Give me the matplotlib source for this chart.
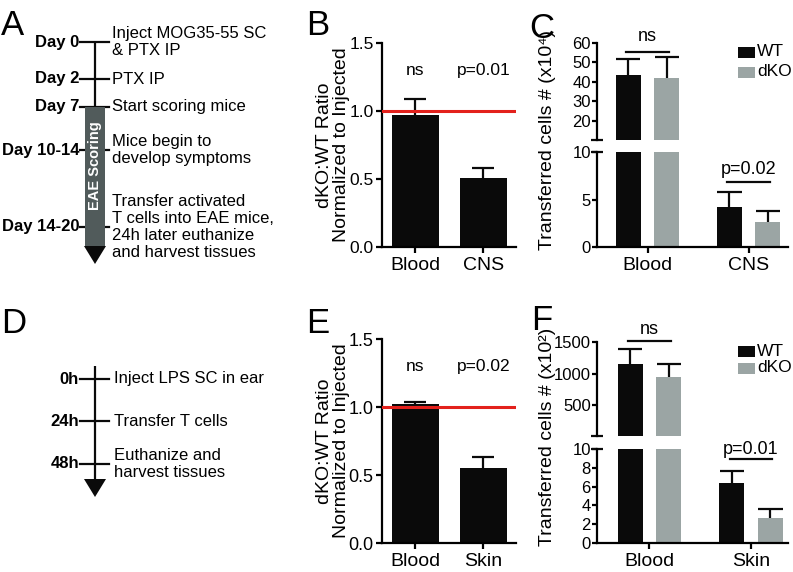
import matplotlib
matplotlib.use('Agg')
import matplotlib.pyplot as plt
import numpy as np
from matplotlib.patches import Rectangle, Polygon

plt.rcParams['font.family'] = ['Liberation Sans', 'DejaVu Sans']

# ---------------- data ----------------
# Panel A timeline (EAE)
eae_days = ['Day 0', 'Day 2', 'Day 7', 'Day 10-14', 'Day 14-20']
eae_events = ['Inject MOG35-55 SC\n& PTX IP', 'PTX IP', 'Start scoring mice',
              'Mice begin to\ndevelop symptoms',
              'Transfer activated\nT cells into EAE mice,\n24h later euthanize\nand harvest tissues']
# Panel D timeline (LPS)
lps_times = ['0h', '24h', '48h']
lps_events = ['Inject LPS SC in ear', 'Transfer T cells', 'Euthanize and\nharvest tissues']

# Panel B
cats_B = ['Blood', 'CNS']
ratio_B = [0.97, 0.51]
ratio_B_err = [0.12, 0.07]
pval_B = ['ns', 'p=0.01']
# Panel E
cats_E = ['Blood', 'Skin']
ratio_E = [1.02, 0.55]
ratio_E_err = [0.02, 0.08]
pval_E = ['ns', 'p=0.02']
ref_line = 1.0

# Panel C
cats_C = ['Blood', 'CNS']
wt_C = [43.6, 4.2]
wt_C_err = [8.2, 1.6]
dko_C = [42.0, 2.6]
dko_C_err = [10.6, 1.2]
pval_C = ['ns', 'p=0.02']
# Panel F
cats_F = ['Blood', 'Skin']
wt_F = [1160, 6.4]
wt_F_err = [235, 1.3]
dko_F = [950, 2.7]
dko_F_err = [195, 0.9]
pval_F = ['ns', 'p=0.01']
series_names = ['WT', 'dKO']

# ---------------- styles ----------------
W, H = 793, 572
BLACK = '#0a0a0a'
GREY = '#9ba5a4'
RED = '#e3211c'
BOX = '#515b5b'
LW = 1.6

fig = plt.figure(figsize=(W / 100, H / 100), dpi=100)


def px_axes(x0, y0, x1, y1, **kw):
    return fig.add_axes([x0 / W, 1 - y1 / H, (x1 - x0) / W, (y1 - y0) / H], **kw)


ov = px_axes(0, 0, W, H)
ov.set_xlim(0, W)
ov.set_ylim(H, 0)
ov.axis('off')

# panel letters
for letter, (x, y) in zip('ABCDEF', [(1, 35), (306, 35), (529, 38), (1, 333), (306, 333), (531, 330)]):
    ov.text(x, y, letter, fontsize=25, va='baseline', ha='left')


# ---------------- timelines ----------------
def timeline(tick_y, labels, events, top, bottom, full_ticks, desc_x=112):
    cx = 95
    ov.plot([cx, cx], [top, bottom - 4], color=BLACK, lw=LW, solid_capstyle='butt')
    ov.add_patch(Polygon([[cx - 11, bottom - 18], [cx + 11, bottom - 18], [cx, bottom]],
                         closed=True, color=BLACK, lw=0))
    for yy, lab, ev, full in zip(tick_y, labels, events, full_ticks):
        if full:
            ov.plot([80, 109], [yy, yy], color=BLACK, lw=LW)
        else:
            ov.plot([80, 85], [yy, yy], color=BLACK, lw=LW)
            ov.plot([105, 109], [yy, yy], color=BLACK, lw=LW)
        ov.text(79, yy, lab, ha='right', va='center', fontsize=12, fontweight='bold')
        ov.text(desc_x, yy, ev, ha='left', va='center', fontsize=12, linespacing=1.18)


timeline([42, 79, 107, 150, 227], eae_days, eae_events, 42, 264,
         [True, True, True, False, False])
ov.add_patch(Rectangle((85, 107), 20, 139, color=BOX, lw=0, zorder=3))
ov.text(95, 166, 'EAE Scoring', rotation=90, color='white', fontsize=10.5,
        fontweight='bold', ha='center', va='center', zorder=4)

timeline([379, 421, 464], lps_times, lps_events, 366, 497, [True, True, True], desc_x=114)


# ---------------- ratio panels ----------------
def ratio_panel(box, cats, vals, errs, pvals, tick_fs, ylab_xy):
    ax = px_axes(*box)
    x = np.arange(len(cats))
    ax.bar(x, vals, width=0.69, color=BLACK, zorder=2)
    ax.vlines(x, vals, np.array(vals) + np.array(errs), color=BLACK, lw=LW, zorder=3)
    ax.hlines(np.array(vals) + np.array(errs), x - 0.16, x + 0.16, color=BLACK, lw=LW, zorder=3)
    ax.axhline(ref_line, color=RED, lw=2.2, zorder=4)
    ax.set_xlim(-0.49, 1.48)
    ax.set_ylim(0, 1.5)
    ax.set_yticks([0, 0.5, 1.0, 1.5])
    ax.set_yticklabels(['%.1f' % v for v in [0, 0.5, 1.0, 1.5]], fontsize=tick_fs)
    ax.set_xticks(x)
    ax.set_xticklabels(cats, fontsize=14)
    for s in ['top', 'right']:
        ax.spines[s].set_visible(False)
    for s in ['left', 'bottom']:
        ax.spines[s].set_linewidth(LW)
    ax.tick_params(width=LW, length=4, pad=2)
    ax.tick_params(axis='x', pad=3)
    for xi, p in zip(x, pvals):
        ax.text(xi, 1.3, p, ha='center', va='center', fontsize=12.5)
    ax.patch.set_alpha(0)
    ov.text(ylab_xy[0], ylab_xy[1], 'dKO:WT Ratio\nNormalized to Injected', rotation=90,
            ha='center', va='center', fontsize=14, multialignment='center', linespacing=1.05)
    return ax


ratio_panel((382, 43, 516, 247), cats_B, ratio_B, ratio_B_err, pval_B, 12.5, (333, 145))
ratio_panel((382, 339, 516, 543), cats_E, ratio_E, ratio_E_err, pval_E, 13, (333, 441))


# ---------------- broken count panels ----------------
def draw_bars(ax, x, off, bw, wt, wt_e, dko, dko_e, keep):
    for xs, v, e, col in ((x - off, wt, wt_e, BLACK), (x + off, dko, dko_e, GREY)):
        v = np.array(v, float)
        e = np.array(e, float)
        m = keep(v)
        if not m.any():
            continue
        ax.bar(xs[m], v[m], width=bw, color=col, zorder=2)
        ax.vlines(xs[m], v[m], v[m] + e[m], color=BLACK, lw=LW, zorder=3)
        ax.hlines(v[m] + e[m], xs[m] - 0.12, xs[m] + 0.12, color=BLACK, lw=LW, zorder=3)


def count_panel(left, right, up_box, low_box, xlim, up_lim, up_ticks, low_lim, low_ticks,
                cats, wt, wt_e, dko, dko_e, pvals, tick_fs, ylabel, ylab_xy, leg_y, leg_dy,
                ns_y, ns_text_y, p_y, p_text_y):
    ax_u = px_axes(left, up_box[0], right, up_box[1])
    ax_l = px_axes(left, low_box[0], right, low_box[1])
    x = np.arange(len(cats))
    off = 0.19
    bw = 0.25
    draw_bars(ax_u, x, off, bw, wt, wt_e, dko, dko_e, lambda v: v > low_lim[1])
    draw_bars(ax_l, x, off, bw, wt, wt_e, dko, dko_e, lambda v: np.ones(len(v), bool))
    for ax in (ax_u, ax_l):
        ax.set_xlim(*xlim)
        for s in ['top', 'right']:
            ax.spines[s].set_visible(False)
        ax.spines['left'].set_linewidth(LW)
        ax.tick_params(width=LW, length=3.5, pad=1, labelsize=tick_fs)
        ax.patch.set_alpha(0)
    ax_u.set_ylim(*up_lim)
    ax_u.set_yticks(up_ticks)
    ax_u.spines['bottom'].set_visible(False)
    ax_u.tick_params(axis='x', bottom=False, labelbottom=False)
    ax_l.set_ylim(*low_lim)
    ax_l.set_yticks(low_ticks)
    ax_l.spines['bottom'].set_linewidth(LW)
    ax_l.set_xticks(x)
    ax_l.set_xticklabels(cats, fontsize=14)
    ax_l.tick_params(axis='x', pad=3, length=4)
    # break feet
    ax_u.plot([0], [0], marker='_', markersize=8, mew=LW, color=BLACK,
              transform=ax_u.transAxes, clip_on=False)
    ax_l.plot([0], [1], marker='_', markersize=8, mew=LW, color=BLACK,
              transform=ax_l.transAxes, clip_on=False)
    # significance
    ax_u.plot([x[0] - 0.21, x[0] + 0.21], [ns_y, ns_y], color=BLACK, lw=LW, clip_on=False)
    ax_u.text(x[0], ns_text_y, pvals[0], ha='center', va='center', fontsize=13, clip_on=False)
    ax_l.plot([x[1] - 0.21, x[1] + 0.21], [p_y, p_y], color=BLACK, lw=LW, clip_on=False)
    ax_l.text(x[1], p_text_y, pvals[1], ha='center', va='center', fontsize=13, clip_on=False)
    # legend
    for i, (name, col) in enumerate(zip(series_names, [BLACK, GREY])):
        yy = leg_y + i * leg_dy
        ov.add_patch(Rectangle((738, yy - 5), 17, 11, color=col, lw=0))
        ov.text(757, yy, name, ha='left', va='center', fontsize=12.5)
    ov.text(ylab_xy[0], ylab_xy[1], ylabel, rotation=90, ha='center', va='center', fontsize=14)


count_panel(597, 788, (43, 140), (152, 247), (-0.5, 1.39), (10, 60), [20, 30, 40, 50, 60],
            (0, 10), [0, 5, 10], cats_C, wt_C, wt_C_err, dko_C, dko_C_err, pval_C, 12,
            'Transferred cells # (x10\u2074)', (548, 140), 52, 20,
            ns_y=55.5, ns_text_y=63.5, p_y=6.8, p_text_y=8.2)

count_panel(597, 788, (342, 436), (449, 543), (-0.517, 1.364), (15, 1500), [500, 1000, 1500],
            (0, 10), [0, 2, 4, 6, 8, 10], cats_F, wt_F, wt_F_err, dko_F, dko_F_err, pval_F, 12,
            'Transferred cells # (x10\u00b2)', (548, 437), 351, 17,
            ns_y=1515, ns_text_y=1700, p_y=8.9, p_text_y=9.95)

fig.savefig('out.png', dpi=100)
